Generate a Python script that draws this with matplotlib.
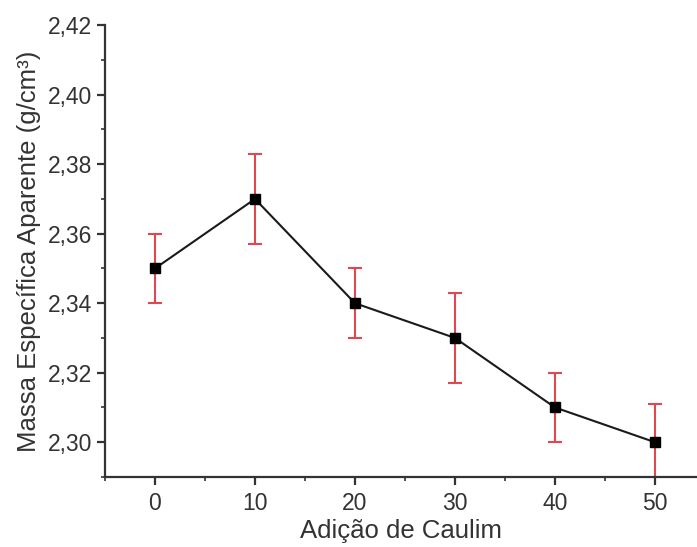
import matplotlib
matplotlib.use("Agg")
import matplotlib.pyplot as plt
from matplotlib.ticker import MultipleLocator, FuncFormatter

# data
caulim = [0, 10, 20, 30, 40, 50]
massa = [2.350, 2.370, 2.340, 2.330, 2.310, 2.300]
erro = [0.010, 0.013, 0.010, 0.013, 0.010, 0.011]

plt.rcParams['font.family'] = ['Liberation Sans', 'DejaVu Sans']

fig = plt.figure(figsize=(6.97, 5.47), dpi=100)
ax = fig.add_axes([0.1506, 0.128, 0.8494, 0.826])

ax.errorbar(caulim, massa, yerr=erro, fmt='none', ecolor='#e0474f',
            elinewidth=1.5, capsize=5, capthick=1.5, zorder=2)
ax.plot(caulim, massa, color='#1a1a1a', lw=1.5, marker='s', ms=7,
        mfc='black', mec='black', zorder=3)

ax.set_xlim(-5, 54.2)
ax.set_ylim(2.29, 2.42)
ax.xaxis.set_major_locator(MultipleLocator(10))
ax.xaxis.set_minor_locator(MultipleLocator(5))
ax.yaxis.set_major_locator(MultipleLocator(0.02))
ax.yaxis.set_minor_locator(MultipleLocator(0.01))
ax.yaxis.set_major_formatter(FuncFormatter(lambda v, p: f"{v:.2f}".replace('.', ',')))

for s in ['top', 'right']:
    ax.spines[s].set_visible(False)
for s in ['left', 'bottom']:
    ax.spines[s].set_linewidth(1.6)
    ax.spines[s].set_color('#333333')

ax.tick_params(which='major', direction='out', length=6, width=1.6, pad=3,
               labelsize=16.5, colors='#333333', labelcolor='#333333')
ax.tick_params(axis='x', which='major', pad=5)
ax.tick_params(which='minor', direction='out', length=3, width=1.2, colors='#333333')

ax.set_xlabel('Adição de Caulim', fontsize=18.5, color='#333333', labelpad=3)
ax.set_ylabel('Massa Específica Aparente (g/cm³)', fontsize=18.5, color='#333333', labelpad=5)

fig.savefig('out.png', dpi=100)
